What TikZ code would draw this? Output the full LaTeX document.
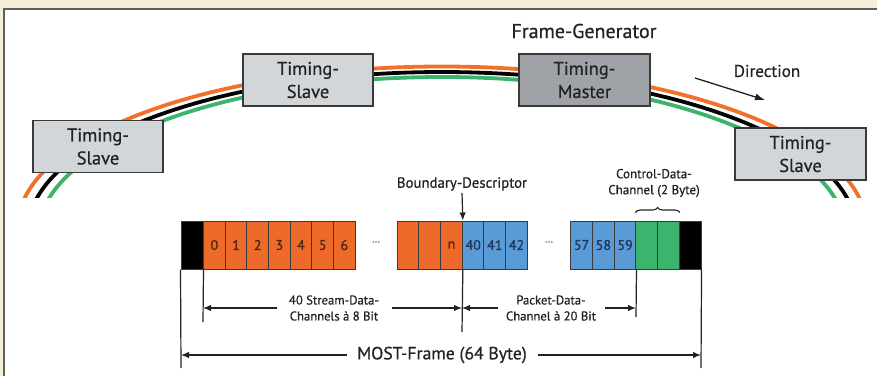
\documentclass[tikz,border=0pt]{standalone}
\usepackage{fontspec}
\setmainfont{PT Sans}[FakeBold=0.6]
\usetikzlibrary{arrows.meta,decorations.pathreplacing}
\definecolor{bgbeige}{HTML}{F2EED8}
\definecolor{panelline}{HTML}{5E5E5E}
\definecolor{boxgray}{HTML}{D3D6D9}
\definecolor{mastergray}{HTML}{9FA3A7}
\definecolor{boxline}{HTML}{3A3A3A}
\definecolor{ringorange}{HTML}{F2702A}
\definecolor{ringgreen}{HTML}{3DB46D}
\definecolor{cellorange}{HTML}{EE6A2A}
\definecolor{cellblue}{HTML}{5A9AD6}
\definecolor{cellgreen}{HTML}{3DB46D}
\definecolor{txt}{HTML}{222222}
\definecolor{otxt}{HTML}{4A2410}
\definecolor{btxt}{HTML}{1B3658}
\begin{document}
\begin{tikzpicture}[x=1pt,y=-1pt,
  tbox/.style={draw=boxline, fill=boxgray, line width=1.2pt, minimum width=130pt,
    minimum height=52pt, align=center, inner sep=0pt, text=txt,
    font=\fontsize{18.5}{23}\selectfont},
  cellbase/.style={draw=boxline, line width=1pt, minimum width=21.67pt,
    minimum height=48pt, inner sep=0pt, font=\fontsize{14}{16}\selectfont},
  ocell/.style={cellbase, fill=cellorange, text=otxt},
  bcell/.style={cellbase, fill=cellblue, text=btxt},
  gcell/.style={cellbase, fill=cellgreen},
  kcell/.style={cellbase, fill=black},
  lbl/.style={text=txt, align=center, inner sep=0pt},
  dimlbl/.style={lbl, font=\fontsize{12.7}{16}\selectfont},
  dimline/.style={draw=txt, line width=1.2pt},
  dimarr/.style={dimline, -{Latex[length=8pt,width=6.5pt]}},
  dots/.style={text=black!55, inner sep=0pt, font=\fontsize{11}{12}\selectfont}
]
\useasboundingbox (0,0) rectangle (877,376);
\fill[bgbeige] (0,0) rectangle (877,376);
\fill[white] (4,9) rectangle (877,376);
\draw[panelline, line width=1.6pt] (4,376) -- (4,9) -- (877,9);

% ring
\begin{scope}
  \clip (0,0) rectangle (877,197);
  \draw[ringorange, line width=3.8pt] (442,226.5) ellipse [x radius=424, y radius=160];
  \draw[black, line width=3.8pt] (442,231) ellipse [x radius=414, y radius=159];
  \draw[ringgreen, line width=3.8pt] (442,235) ellipse [x radius=404, y radius=158];
\end{scope}

% stations
\node[tbox] (ts1) at (98,146.5) {Timing-\\Slave};
\node[tbox] (ts2) at (308,80) {Timing-\\Slave};
\node[tbox, fill=mastergray, minimum width=131pt] (tm) at (584.5,80) {Timing-\\Master};
\node[tbox, minimum width=131pt] (ts3) at (800.5,154) {Timing-\\Slave};

\node[lbl, font=\fontsize{20}{22}\selectfont] (fg) at (584,31) {Frame-Generator};
\node[lbl, font=\fontsize{17}{19}\selectfont] (dir) at (767,71) {Direction};
\coordinate (d1) at (695,78);
\coordinate (d2) at (765,100);
\draw[draw=txt, line width=1.3pt, -{Latex[length=10pt,width=7pt]}] (d1) -- (d2);

% frame cells
\node[kcell, minimum width=22pt] (k1) at (192,245) {};
\foreach \i in {0,...,6}
  \node[ocell] (c\i) at ({214.33+21.67*\i},245) {\i};
\node[dots] (el1) at (376,242) {\dots};
\node[ocell] (o1) at (408.2,245) {};
\node[ocell] (o2) at (429.8,245) {};
\node[ocell] (on) at (451.5,245) {n};
\node[bcell] (b40) at (473.2,245) {40};
\node[bcell] (b41) at (494.8,245) {41};
\node[bcell] (b42) at (516.5,245) {42};
\node[dots] (el2) at (549,242) {\dots};
\node[bcell, minimum width=21.77pt] (b57) at (581.6,245) {57};
\node[bcell, minimum width=21.77pt] (b58) at (603.4,245) {58};
\node[bcell, minimum width=21.77pt] (b59) at (625.1,245) {59};
\node[gcell] (g1) at (646.8,245) {};
\node[gcell] (g2) at (668.5,245) {};
\node[kcell, minimum width=21.7pt] (k2) at (690.2,245) {};

% labels above frame
\node[lbl, font=\fontsize{14.8}{16}\selectfont] (bd) at (462,184) {Boundary-Descriptor};
\coordinate (bdt) at (462,193);
\draw[dimarr] (bdt) -- (on.north east);
\node[lbl, font=\fontsize{13}{16}\selectfont] (cd) at (654,183) {Control-Data-\\Channel (2 Byte)};
\draw[txt, line width=1.1pt, decorate, decoration={brace, amplitude=5pt}]
  (g1.north west) ++(0,-8) coordinate (br1) (br1) -- (br1 -| g2.north east);

% extension lines
\coordinate (e1) at (181,368);
\coordinate (e2) at (203,322);
\coordinate (e3) at (462,332);
\coordinate (e4) at (636,317);
\coordinate (e5) at (701,368);
\draw[dimline] (k1.south west) -- (e1);
\draw[dimline] (k1.south east) -- (e2);
\draw[dimline] (on.south east) -- (e3);
\draw[dimline] (b59.south east) -- (e4);
\draw[dimline] (k2.south east) -- (e5);

% dimension: stream
\node[dimlbl] (stxt) at (334,308) {40 Stream-Data-\\Channels à 8 Bit};
\coordinate (s1) at (277,308); \coordinate (s1t) at (203,308);
\coordinate (s2) at (392,308); \coordinate (s2t) at (462,308);
\draw[dimarr] (s1) -- (s1t);
\draw[dimarr] (s2) -- (s2t);
% dimension: packet
\node[dimlbl] (ptxt) at (551,308) {Packet-Data-\\Channel à 20 Bit};
\coordinate (p1) at (498,308); \coordinate (p1t) at (462,308);
\coordinate (p2) at (605,308); \coordinate (p2t) at (636,308);
\draw[dimarr] (p1) -- (p1t);
\draw[dimarr] (p2) -- (p2t);
% dimension: frame
\node[lbl, font=\fontsize{17.7}{20}\selectfont] (mtxt) at (442,355) {MOST-Frame (64 Byte)};
\coordinate (m1) at (347,355); \coordinate (m1t) at (181,355);
\coordinate (m2) at (538,355); \coordinate (m2t) at (701,355);
\draw[dimarr] (m1) -- (m1t);
\draw[dimarr] (m2) -- (m2t);
\end{tikzpicture}
\end{document}
